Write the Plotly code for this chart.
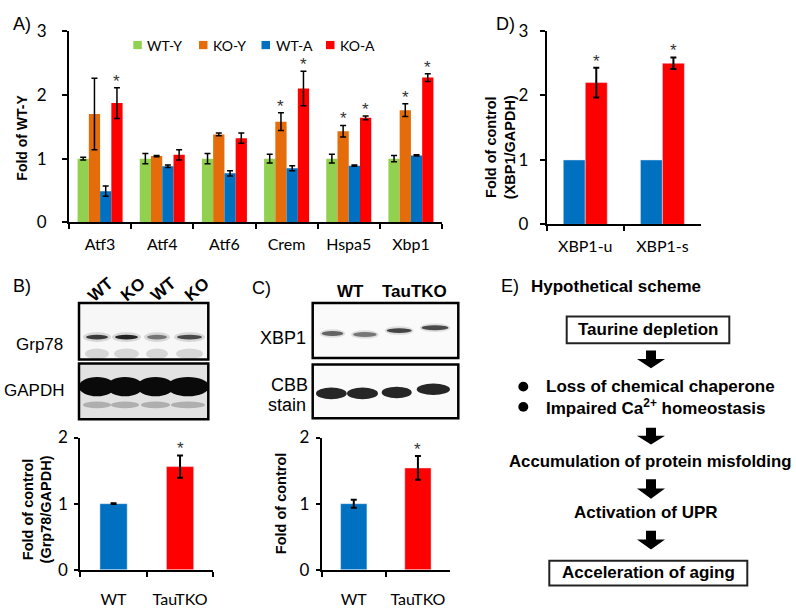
import plotly.graph_objects as go

W, H = 796, 611
def px(x): return x / W
def py(y): return 1 - y / H

# ---------------- data ----------------
genes = ["Atf3", "Atf4", "Atf6", "Crem", "Hspa5", "Xbp1"]
series_names = ["WT-Y", "KO-Y", "WT-A", "KO-A"]
wt_y = [1.00, 1.00, 1.00, 1.00, 1.00, 1.00]
wt_y_err = [0.02, 0.08, 0.08, 0.07, 0.07, 0.05]
ko_y = [1.70, 1.04, 1.38, 1.58, 1.43, 1.76]
ko_y_err = [0.56, 0.01, 0.02, 0.14, 0.09, 0.10]
wt_a = [0.49, 0.88, 0.77, 0.85, 0.89, 1.05]
wt_a_err = [0.08, 0.02, 0.04, 0.04, 0.01, 0.01]
ko_a = [1.87, 1.06, 1.32, 2.10, 1.64, 2.27]
ko_a_err = [0.24, 0.08, 0.08, 0.27, 0.03, 0.06]
sig_ko_y = [False, False, False, True, True, True]
sig_ko_a = [True, False, False, True, True, True]

xbp_cats = ["XBP1-u", "XBP1-s"]
xbp_wt = [1.0, 1.0]
xbp_tko = [2.20, 2.50]
xbp_tko_err = [0.23, 0.09]

grp_cats = ["WT", "TauTKO"]
grp_vals = [1.00, 1.56]
grp_err = [0.005, 0.17]

xbp1_cats = ["WT", "TauTKO"]
xbp1_vals = [1.00, 1.54]
xbp1_err = [0.06, 0.18]

GREEN, ORANGE, BLUE, RED = "#92D050", "#E46C0A", "#0070C0", "#FF0000"
CAL = "Lato"
ARIAL = "Liberation Sans"

fig = go.Figure()

# ---------------- Panel A ----------------
wA = 0.181
seriesA = [(series_names[0], wt_y, wt_y_err, GREEN), (series_names[1], ko_y, ko_y_err, ORANGE),
           (series_names[2], wt_a, wt_a_err, BLUE), (series_names[3], ko_a, ko_a_err, RED)]
offsA = [-2 * wA, -wA, 0, wA]
for (name, vals, errs, col), off in zip(seriesA, offsA):
    fig.add_trace(go.Bar(x=genes, y=vals, name=name, marker_color=col, marker_line_width=0,
                         width=wA, offset=off, xaxis="x", yaxis="y", showlegend=False,
                         error_y=dict(type="data", array=errs, color="black", thickness=1.5, width=3)))

annots = []
shapes = []
def star(xref, yref, x, y, size=17):
    annots.append(dict(text="*", x=x, y=y, xref=xref, yref=yref, showarrow=False,
                       yanchor="bottom", yshift=-5, font=dict(family=ARIAL, size=size, color="#333")))

for i in range(len(genes)):
    if sig_ko_y[i]:
        star("x", "y", i + offsA[1] + wA / 2, ko_y[i] + ko_y_err[i])
    if sig_ko_a[i]:
        star("x", "y", i + offsA[3] + wA / 2, ko_a[i] + ko_a_err[i])

# legend for panel A (key squares + labels)
leg_sq_x = [133.3, 199.0, 261.5, 326.0]
for (name, _, _, col), sx in zip(seriesA, leg_sq_x):
    shapes.append(dict(type="rect", xref="paper", yref="paper", x0=px(sx), x1=px(sx + 8.5),
                       y0=py(39.5), y1=py(31), fillcolor=col, line=dict(width=0)))
    annots.append(dict(text=name, x=px(sx + 12), y=py(35.5), xref="paper", yref="paper",
                       showarrow=False, xanchor="left", yanchor="middle",
                       font=dict(family=CAL, size=14, color="black")))

# ---------------- Panel D ----------------
wD = 0.285
fig.add_trace(go.Bar(x=xbp_cats, y=xbp_wt, marker_color=BLUE, width=wD, offset=-wD,
                     xaxis="x2", yaxis="y2", showlegend=False))
fig.add_trace(go.Bar(x=xbp_cats, y=xbp_tko, marker_color=RED, width=wD, offset=0,
                     xaxis="x2", yaxis="y2", showlegend=False,
                     error_y=dict(type="data", array=xbp_tko_err, color="black", thickness=2, width=3)))
for i in range(len(xbp_cats)):
    star("x2", "y2", i + wD / 2, xbp_tko[i] + xbp_tko_err[i])

# ---------------- Panel B & C bars ----------------
wB = 0.41
fig.add_trace(go.Bar(x=grp_cats, y=grp_vals, marker_color=[BLUE, RED], width=wB, offset=-wB / 2,
                     xaxis="x3", yaxis="y3", showlegend=False,
                     error_y=dict(type="data", array=grp_err, color="black", thickness=2, width=3)))
star("x3", "y3", 1, grp_vals[1] + grp_err[1])
fig.add_trace(go.Bar(x=xbp1_cats, y=xbp1_vals, marker_color=[BLUE, RED], width=wB, offset=-wB / 2,
                     xaxis="x4", yaxis="y4", showlegend=False,
                     error_y=dict(type="data", array=xbp1_err, color="black", thickness=2, width=3)))
star("x4", "y4", 1, xbp1_vals[1] + xbp1_err[1])

def xax(dom, n, standoff, size=16):
    return dict(domain=[px(dom[0]), px(dom[1])], type="category", range=[-0.5, n - 0.5],
                showline=True, linecolor="black", linewidth=2, ticks="outside", tickson="boundaries",
                ticklen=5, tickwidth=2, tickcolor="black", showgrid=False, zeroline=False,
                tickfont=dict(family=CAL, size=size, color="black"), ticklabelstandoff=standoff,
                fixedrange=True)

def yax(dom, rng, dt, anchor, standoff, ticklen=5):
    return dict(domain=[py(dom[1]), py(dom[0])], range=rng, dtick=dt, anchor=anchor,
                showline=True, linecolor="black", linewidth=2, ticks="outside", ticklen=ticklen,
                tickwidth=2, tickcolor="black", showgrid=False, zeroline=False,
                tickfont=dict(family=CAL, size=17, color="black"), ticklabelstandoff=standoff,
                fixedrange=True)

layout_axes = dict(
    xaxis=xax((69, 442), 6, 6) | dict(anchor="y"),
    yaxis=yax((20.7, 219), [0, 3], 1, "x", 12),
    xaxis2=xax((546.7, 701), 2, 6) | dict(anchor="y2"),
    yaxis2=yax((20.7, 221), [0, 3], 1, "x2", 8),
    xaxis3=xax((80.3, 213.3), 2, 14) | dict(anchor="y3"),
    yaxis3=yax((441.7, 578.7), [0, 2], 1, "x3", 3, ticklen=4),
    xaxis4=xax((321.7, 450), 2, 14) | dict(anchor="y4"),
    yaxis4=yax((441.7, 578.7), [0, 2], 1, "x4", 3, ticklen=4),
)

# ---------------- y titles ----------------
def ytitle(text, x, y, size=14):
    annots.append(dict(text=text, x=px(x), y=py(y), xref="paper", yref="paper", showarrow=False,
                       textangle=-90, xanchor="center", yanchor="middle",
                       font=dict(family=ARIAL, size=size, color="black")))
ytitle("<b>Fold of WT-Y</b>", 22.5, 131.7, 14)
ytitle("<b>Fold of control<br>(XBP1/GAPDH)</b>", 501.3, 140.7, 14.5)
ytitle("<b>Fold of control<br>(Grp78/GAPDH)</b>", 37.5, 516.7, 14.5)
ytitle("<b>Fold of control</b>", 281.7, 510, 14.5)

# ---------------- text helper ----------------
def txt(text, x, y, size=16, bold=False, xanchor="center", angle=0, family=ARIAL):
    if bold:
        text = "<b>" + text + "</b>"
    annots.append(dict(text=text, x=px(x), y=py(y), xref="paper", yref="paper", showarrow=False,
                       xanchor=xanchor, yanchor="middle", textangle=angle,
                       font=dict(family=family, size=size, color="black")))

# panel letters
txt("A)", 22, 13, 18)
txt("D)", 505, 13, 18)
txt("B)", 21.7, 285, 18)
txt("C)", 261, 287, 18)
txt("E)", 510, 285, 18)
txt("Hypothetical scheme", 529, 285, 17, bold=True, xanchor="left")

def rect(x0, y0, x1, y1, fill="white", line="black", lw=2.5, layer="above", opacity=1):
    shapes.append(dict(type="rect", xref="paper", yref="paper", x0=px(x0), x1=px(x1),
                       y0=py(y1), y1=py(y0), fillcolor=fill, line=dict(color=line, width=lw),
                       layer=layer, opacity=opacity))
def ell(cx, cy, w, h, fill, opacity=1):
    shapes.append(dict(type="circle", xref="paper", yref="paper",
                       x0=px(cx - w / 2), x1=px(cx + w / 2), y0=py(cy + h / 2), y1=py(cy - h / 2),
                       fillcolor=fill, line=dict(width=0), opacity=opacity, layer="above"))

# ---------------- Blot B ----------------
rect(79, 302.3, 208.3, 361, fill="#f7f7f7", lw=0)
lanesB = [(86, 108), (115, 138), (147, 167), (177, 202)]
grp_int = ["#2a2a2a", "#111111", "#6a6a6a", "#3a3a3a"]
for (a, b), c in zip(lanesB, grp_int):
    ell((a + b) / 2, 337.7, (b - a) + 6, 10, "#9a9a9a", 0.35)
    ell((a + b) / 2, 337.7, (b - a), 5, c, 0.9)
    ell((a + b) / 2, 355, (b - a) + 2, 11, "#c8c8c8", 0.7)
rect(79, 302.3, 208.3, 361, fill="rgba(0,0,0,0)", lw=2.5)

rect(79, 365, 208.3, 422.7, fill="#e2e2e2", lw=0)
lanesG = [(80, 114), (108, 142), (138, 173), (168, 208)]
for (a, b) in lanesG:
    ell((a + b) / 2, 389, (b - a) + 2, 20, "#0a0a0a", 1)
    ell((a + b) / 2, 408, (b - a) - 6, 7, "#9a9a9a", 0.7)
rect(79, 365, 208.3, 422.7, fill="rgba(0,0,0,0)", lw=2.5)

txt("Grp78", 39, 345, 17)
txt("GAPDH", 34, 393, 17)
for lab, cx in zip(["WT", "KO", "WT", "KO"], [100.7, 133, 163, 197]):
    txt(lab, cx, 288, 17, bold=True, angle=-40)

# ---------------- Blot C ----------------
rect(312.7, 302.3, 458.3, 359.3, fill="#fafafa", lw=0)
lanesX = [(321.7, 343.3, 334), (353, 376.7, 335), (386.7, 411.7, 331), (421.7, 448.3, 328)]
xbp_int = ["#555555", "#6a6a6a", "#333333", "#3a3a3a"]
for (a, b, cy), c in zip(lanesX, xbp_int):
    ell((a + b) / 2, cy, (b - a) + 4, 9, "#aaaaaa", 0.35)
    ell((a + b) / 2, cy, (b - a), 5, c, 0.9)
rect(312.7, 302.3, 458.3, 359.3, fill="rgba(0,0,0,0)", lw=2.5)

rect(312.7, 366, 458.3, 421.7, fill="#fafafa", lw=0)
lanesCBB = [(316, 346.7, 396), (347, 378, 396), (381.7, 411.7, 395), (416.7, 450, 391.7)]
for a, b, cy in lanesCBB:
    ell((a + b) / 2, cy, (b - a), 12, "#1a1a1a", 0.95)
rect(312.7, 366, 458.3, 421.7, fill="rgba(0,0,0,0)", lw=2.5)

txt("XBP1", 282.5, 339, 18)
txt("CBB", 289, 387, 18)
txt("stain", 287, 408, 18)
txt("WT", 350, 291, 17, bold=True)
txt("TauTKO", 415, 291, 17, bold=True)

# ---------------- Panel E flowchart ----------------
def arrow(cx, y0, y1):
    sw, hw = 5, 14
    ym = y0 + (y1 - y0) * 0.47
    pts = [(cx - sw, y0), (cx + sw, y0), (cx + sw, ym), (cx + hw, ym), (cx, y1),
           (cx - hw, ym), (cx - sw, ym)]
    path = "M " + " L ".join(f"{px(x):.5f},{py(y):.5f}" for x, y in pts) + " Z"
    shapes.append(dict(type="path", xref="paper", yref="paper", path=path,
                       fillcolor="black", line=dict(width=0)))

FS = 17
rect(566.7, 316.5, 729.3, 344, fill="white", line="#222", lw=2)
txt("Taurine depletion", 648, 330, FS, bold=True)
arrow(651, 351.7, 370)
for cy in (389, 410):
    shapes.append(dict(type="circle", xref="paper", yref="paper", x0=px(518.3), x1=px(528.3),
                       y0=py(cy + 5), y1=py(cy - 5), fillcolor="black", line=dict(width=0)))
txt("Loss of chemical chaperone", 544, 389, FS, bold=True, xanchor="left")
txt("Impaired Ca<sup>2+</sup> homeostasis", 544, 410, FS, bold=True, xanchor="left")
arrow(651, 431.7, 449)
txt("Accumulation of protein misfolding", 649.5, 466.5, 16.8, bold=True)
arrow(651, 485, 505)
txt("Activation of UPR", 645.7, 519.3, FS, bold=True)
arrow(651, 538.3, 557.7)
rect(549.3, 569.3, 747.3, 595, fill="white", line="#222", lw=2)
txt("Acceleration of aging", 648, 582, FS, bold=True)

fig.update_layout(
    width=W, height=H, margin=dict(l=0, r=0, t=0, b=0),
    paper_bgcolor="white", plot_bgcolor="white",
    barmode="group", showlegend=False,
    annotations=annots, shapes=shapes, **layout_axes,
)

fig.write_html("out.html", config={"displayModeBar": False},
               post_script="document.body.style.margin='0';")
